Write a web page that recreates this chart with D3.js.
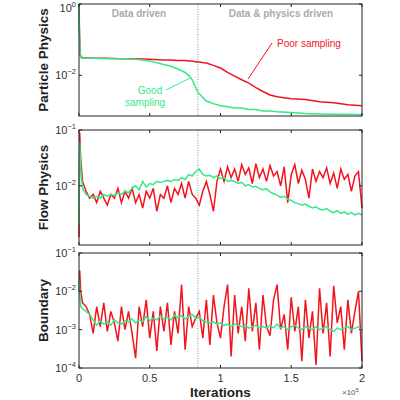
<!DOCTYPE html>
<html>
<head>
<meta charset="utf-8">
<script src="https://cdn.jsdelivr.net/npm/d3@7"></script>
<style>
  body { margin: 0; background: #fff; }
  text { font-family: "Liberation Sans", Arial, sans-serif; }
</style>
</head>
<body>
<svg id="chart"></svg>
<script>
// Iterations in units of 1e5
const headX = [0, 0.005, 0.012];
const gridX = d3.range(1, 81).map(i => i * 0.025);

// Particle physics (top)
const ppX = [0, 0.003, 0.008, 0.015, 0.03, 0.1, 0.2, 0.3, 0.4, 0.5, 0.6, 0.65, 0.7, 0.75, 0.78, 0.8, 0.82, 0.84, 0.87, 0.9, 0.95, 1.0, 1.05, 1.1, 1.15, 1.2, 1.25, 1.3, 1.35, 1.4, 1.5, 1.6, 1.7, 1.8, 1.9, 2.0];
const ppPoor = [1, 0.2, 0.04, 0.032, 0.031, 0.03, 0.03, 0.029, 0.029, 0.028, 0.027, 0.027, 0.026, 0.026, 0.025, 0.025, 0.024, 0.024, 0.023, 0.022, 0.019, 0.016, 0.012, 0.0095, 0.0075, 0.006, 0.0045, 0.0035, 0.0028, 0.0025, 0.0022, 0.0021, 0.0018, 0.0017, 0.0015, 0.0014];
const ppGood = [1, 0.15, 0.035, 0.031, 0.03, 0.03, 0.029, 0.029, 0.028, 0.025, 0.02, 0.018, 0.015, 0.012, 0.0095, 0.0075, 0.005, 0.0033, 0.0025, 0.0019, 0.0016, 0.0014, 0.0013, 0.0012, 0.0012, 0.0011, 0.0011, 0.001, 0.001, 0.00095, 0.0009, 0.00085, 0.00082, 0.0008, 0.0008, 0.00078];

// Flow physics (middle)
const fpPoor = [0.0012, 0.09, 0.03,
  0.012, 0.008, 0.006, 0.007, 0.005, 0.008, 0.006, 0.0045, 0.007, 0.006,
  0.009, 0.005, 0.008, 0.006, 0.009, 0.005, 0.007, 0.004, 0.008, 0.006,
  0.009, 0.0035, 0.007, 0.006, 0.01, 0.005, 0.009, 0.007, 0.011, 0.006,
  0.012, 0.007, 0.006, 0.0045, 0.008, 0.012, 0.007, 0.0035, 0.012, 0.02,
  0.012, 0.022, 0.014, 0.02, 0.012, 0.024, 0.016, 0.021, 0.011, 0.025,
  0.014, 0.02, 0.012, 0.023, 0.015, 0.018, 0.01, 0.022, 0.005, 0.016,
  0.024, 0.011, 0.019, 0.013, 0.006, 0.02, 0.012, 0.018, 0.014, 0.021,
  0.011, 0.017, 0.009, 0.02, 0.013, 0.016, 0.008, 0.015, 0.018, 0.004];
const fpGood = [0.002, 0.06, 0.02,
  0.009, 0.007, 0.0065, 0.006, 0.0065, 0.006, 0.007, 0.0065, 0.007, 0.0068,
  0.0075, 0.007, 0.008, 0.0075, 0.009, 0.01, 0.0085, 0.012, 0.0095, 0.011,
  0.0105, 0.012, 0.0115, 0.012, 0.0125, 0.012, 0.013, 0.0125, 0.014, 0.013,
  0.016, 0.015, 0.018, 0.02, 0.016, 0.015, 0.0155, 0.014, 0.015, 0.0135,
  0.014, 0.012, 0.0125, 0.012, 0.011, 0.0115, 0.01, 0.0105, 0.0095, 0.0098,
  0.009, 0.0085, 0.0088, 0.0078, 0.0072, 0.0068, 0.0062, 0.0065, 0.0058, 0.0055,
  0.005, 0.0048, 0.0045, 0.0047, 0.0043, 0.004, 0.0042, 0.0038, 0.0037, 0.0039,
  0.0035, 0.0033, 0.0036, 0.0032, 0.0034, 0.0031, 0.0033, 0.003, 0.0032, 0.003];

// Boundary (bottom)
const bdPoor = [0.01, 0.035, 0.01,
  0.005, 0.004, 0.0025, 0.0008, 0.004, 0.0012, 0.005, 0.0009, 0.003, 0.0015,
  0.0005, 0.004, 0.001, 0.003, 0.0008, 0.00018, 0.004, 0.0012, 0.006, 0.0006,
  0.003, 0.00028, 0.004, 0.0009, 0.005, 0.0004, 0.003, 0.0008, 0.015, 0.0003,
  0.004, 0.0012, 0.002, 0.003, 0.0006, 0.006, 0.0004, 0.008, 0.0015, 0.0006,
  0.004, 0.015, 0.0002, 0.008, 0.0008, 0.004, 0.0005, 0.012, 0.0009, 0.005,
  0.0003, 0.008, 0.0012, 0.0007, 0.006, 0.015, 0.001, 0.0025, 0.0003, 0.007,
  0.0009, 0.004, 0.00015, 0.006, 0.0006, 0.003, 0.00012, 0.012, 0.0008, 0.005,
  0.0002, 0.014, 0.0015, 0.004, 0.0003, 0.006, 0.0008, 0.003, 0.01, 0.00015];
const bdGood = [0.02, 0.01, 0.004,
  0.0035, 0.003, 0.0025, 0.0018, 0.0013, 0.0017, 0.0014, 0.0016, 0.0013, 0.0018,
  0.0015, 0.0014, 0.0017, 0.0016, 0.0019, 0.0015, 0.0018, 0.0016, 0.0022, 0.0017,
  0.002, 0.0018, 0.0023, 0.0019, 0.0021, 0.0018, 0.0024, 0.002, 0.0023, 0.0019,
  0.0022, 0.0025, 0.002, 0.0021, 0.0017, 0.0016, 0.0015, 0.0016, 0.0014, 0.0015,
  0.0013, 0.0014, 0.0012, 0.0014, 0.0013, 0.0012, 0.0013, 0.0011, 0.0012, 0.0013,
  0.0011, 0.0012, 0.0011, 0.0013, 0.0011, 0.0014, 0.0011, 0.0012, 0.001, 0.0012,
  0.0013, 0.0011, 0.001, 0.0012, 0.0011, 0.001, 0.0012, 0.001, 0.0011, 0.0012,
  0.001, 0.0009, 0.0011, 0.001, 0.0011, 0.0012, 0.001, 0.0011, 0.0012, 0.0009];

const xTicks = [0, 0.5, 1, 1.5, 2];
const switchX = 0.84;
const red = "#f2141c", green = "#36e887";

const svg = d3.select("#chart").attr("width", 400).attr("height", 400);
const x = d3.scaleLinear().domain([0, 2]).range([79, 362]);

const panels = [
  { label: "Particle Physics", top: 4, bottom: 116, domain: [7.2e-4, 1], ticks: [0, -2],
    xs: ppX, poor: ppPoor, good: ppGood },
  { label: "Flow Physics", top: 130, bottom: 245, domain: [8.7e-4, 0.1], ticks: [-1, -2],
    xs: headX.concat(gridX), poor: fpPoor, good: fpGood },
  { label: "Boundary", top: 253, bottom: 368, domain: [1e-4, 0.1], ticks: [-1, -2, -3, -4],
    xs: headX.concat(gridX), poor: bdPoor, good: bdGood }
];

panels.forEach((p, pi) => {
  const y = d3.scaleLog().domain(p.domain).range([p.bottom, p.top]);
  const g = svg.append("g");

  // divider between training phases
  g.append("line")
    .attr("x1", x(switchX)).attr("x2", x(switchX))
    .attr("y1", p.top).attr("y2", p.bottom)
    .attr("stroke", "#777").attr("stroke-width", 0.8).attr("stroke-dasharray", "1,1.5");

  const line = d3.line().x((d, i) => x(p.xs[i])).y(d => y(d));
  g.append("path").datum(p.poor).attr("d", line)
    .attr("fill", "none").attr("stroke", red).attr("stroke-width", 1.5);
  g.append("path").datum(p.good).attr("d", line)
    .attr("fill", "none").attr("stroke", green).attr("stroke-width", 1.5);

  // frame
  g.append("rect").attr("x", x(0)).attr("y", p.top)
    .attr("width", x(2) - x(0)).attr("height", p.bottom - p.top)
    .attr("fill", "none").attr("stroke", "#222").attr("stroke-width", 1);

  // x ticks (inward, top and bottom)
  xTicks.forEach(t => {
    g.append("line").attr("x1", x(t)).attr("x2", x(t)).attr("y1", p.bottom).attr("y2", p.bottom - 3).attr("stroke", "#222");
    g.append("line").attr("x1", x(t)).attr("x2", x(t)).attr("y1", p.top).attr("y2", p.top + 3).attr("stroke", "#222");
  });

  // y ticks with superscript labels
  p.ticks.forEach(e => {
    const yy = y(Math.pow(10, e));
    g.append("line").attr("x1", x(0)).attr("x2", x(0) + 3).attr("y1", yy).attr("y2", yy).attr("stroke", "#222");
    g.append("line").attr("x1", x(2)).attr("x2", x(2) - 3).attr("y1", yy).attr("y2", yy).attr("stroke", "#222");
    const t = g.append("text").attr("x", x(0) - 3).attr("y", Math.max(yy + 4, 12))
      .attr("text-anchor", "end").attr("font-size", 11).attr("fill", "#333");
    t.append("tspan").text("10");
    t.append("tspan").attr("dy", -5).attr("font-size", 7.5).text(e === 0 ? "0" : "\u2212" + (-e));
  });

  g.append("text")
    .attr("transform", `translate(48,${(p.top + p.bottom) / 2}) rotate(-90)`)
    .attr("text-anchor", "middle").attr("font-size", 13.5).attr("font-weight", "bold")
    .attr("fill", "#222").text(p.label);

  if (pi === 2) {
    xTicks.forEach(t => {
      g.append("text").attr("x", x(t)).attr("y", p.bottom + 14)
        .attr("text-anchor", "middle").attr("font-size", 11).attr("fill", "#333")
        .text(t === 0 || t === 1 || t === 2 ? t : t.toFixed(1));
    });
    g.append("text").attr("x", x(1)).attr("y", 397)
      .attr("text-anchor", "middle").attr("font-size", 13.5).attr("font-weight", "bold")
      .attr("fill", "#222").text("Iterations");
    const ex = g.append("text").attr("x", 342).attr("y", 395).attr("font-size", 8).attr("fill", "#555");
    ex.append("tspan").text("\u00d710");
    ex.append("tspan").attr("dy", -3).attr("font-size", 6).text("5");
  }

  if (pi === 0) {
    g.append("text").attr("x", 139).attr("y", 17).attr("text-anchor", "middle")
      .attr("font-size", 10).attr("font-weight", "bold").attr("fill", "#aaa").text("Data driven");
    g.append("text").attr("x", 281).attr("y", 17).attr("text-anchor", "middle")
      .attr("font-size", 10).attr("font-weight", "bold").attr("fill", "#aaa").text("Data & physics driven");
    // annotations
    g.append("line").attr("x1", 248).attr("y1", 79).attr("x2", 272).attr("y2", 43).attr("stroke", red);
    g.append("text").attr("x", 277).attr("y", 47).attr("font-size", 10).attr("fill", red).text("Poor sampling");
    g.append("line").attr("x1", 166).attr("y1", 90).attr("x2", 190).attr("y2", 78).attr("stroke", green);
    g.append("text").attr("x", 150).attr("y", 94).attr("text-anchor", "middle").attr("font-size", 10).attr("fill", green).text("Good");
    g.append("text").attr("x", 145).attr("y", 106).attr("text-anchor", "middle").attr("font-size", 10).attr("fill", green).text("sampling");
  }
});
</script>
</body>
</html>
